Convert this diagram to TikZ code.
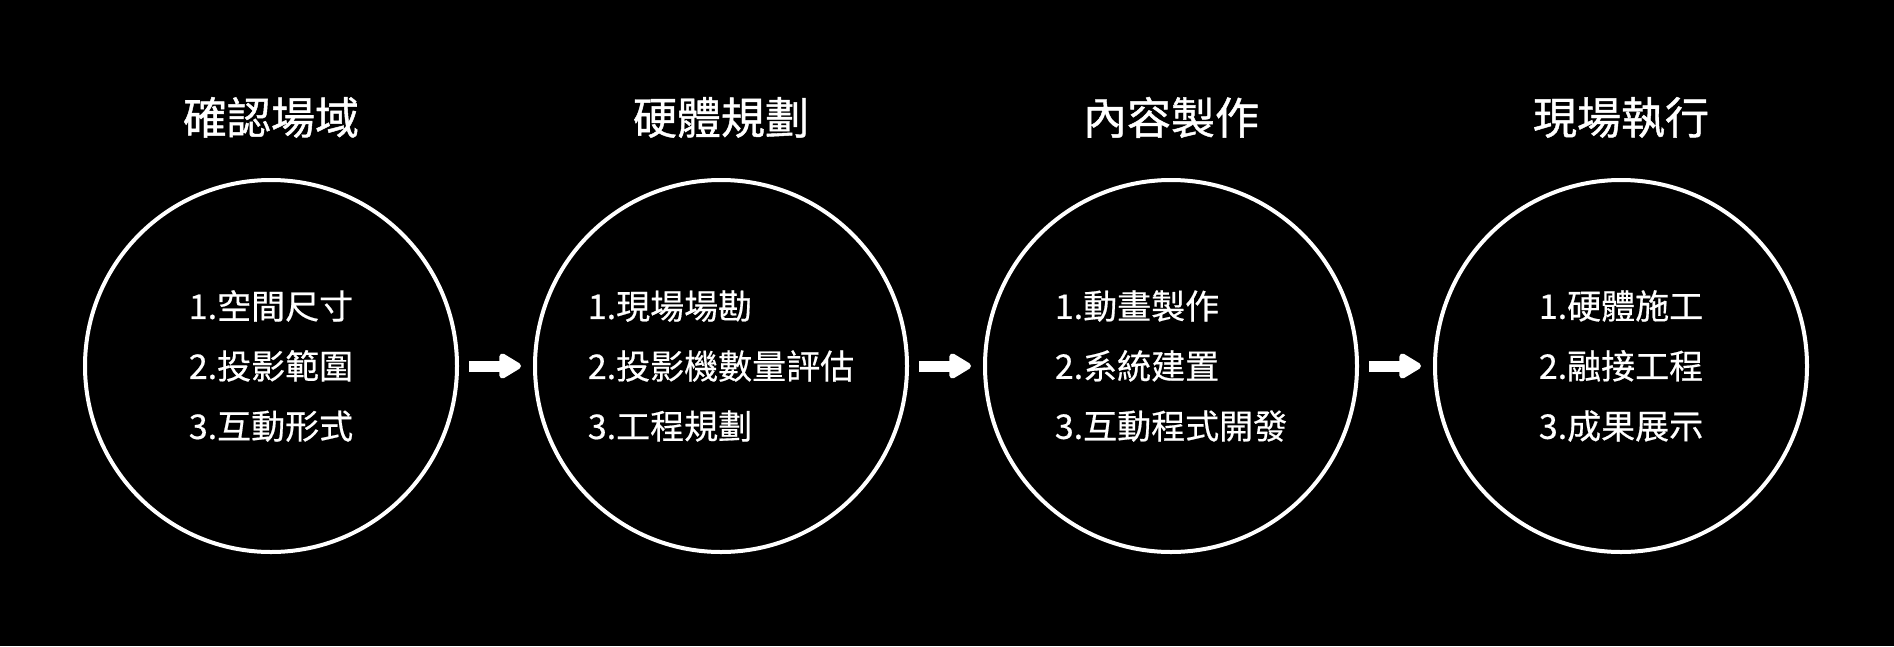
\documentclass[tikz,border=0pt]{standalone}
\usepackage{fontspec}
\newfontfamily\cjk[FakeBold=0.5]{Noto Sans CJK TC}
\newfontfamily\cjkhead[FakeBold=1.0]{Noto Sans CJK TC}
\usepackage{tikz}
\usetikzlibrary{arrows.meta,positioning}

\begin{document}
\begin{tikzpicture}[
  x=1pt, y=-1pt,
  stage/.style={draw=white, line width=4pt, circle, minimum size=372pt, inner sep=0pt, text=white, align=left, font=\cjk\fontsize{34}{60}\selectfont},
  ttl/.style={text=white, inner sep=0pt, font=\cjkhead\fontsize{44}{50}\selectfont},
  flow/.style={draw=white, line width=11pt, -{Triangle[length=25pt, width=28pt, round]}, shorten <=10pt, shorten >=12pt}
]

%--- background ---
\fill[black] (0,0) rectangle (1894,646);

%--- Stage 1 ---
\node[stage] (c1) at (271,366) {1.空間尺寸\\2.投影範圍\\3.互動形式};
\node[ttl, above=40pt of c1] (t1) {確認場域};

%--- Stage 2 ---
\node[stage] (c2) at (721,366) {1.現場場勘\\2.投影機數量評估\\3.工程規劃};
\node[ttl, above=40pt of c2] (t2) {硬體規劃};

%--- Stage 3 ---
\node[stage] (c3) at (1171,366) {1.動畫製作\\2.系統建置\\3.互動程式開發};
\node[ttl, above=40pt of c3] (t3) {內容製作};

%--- Stage 4 ---
\node[stage] (c4) at (1621,366) {1.硬體施工\\2.融接工程\\3.成果展示};
\node[ttl, above=40pt of c4] (t4) {現場執行};

% arrows between stages
\foreach \a/\b in {c1/c2, c2/c3, c3/c4}
  \draw[flow] (\a) -- (\b);
\end{tikzpicture}
\end{document}
